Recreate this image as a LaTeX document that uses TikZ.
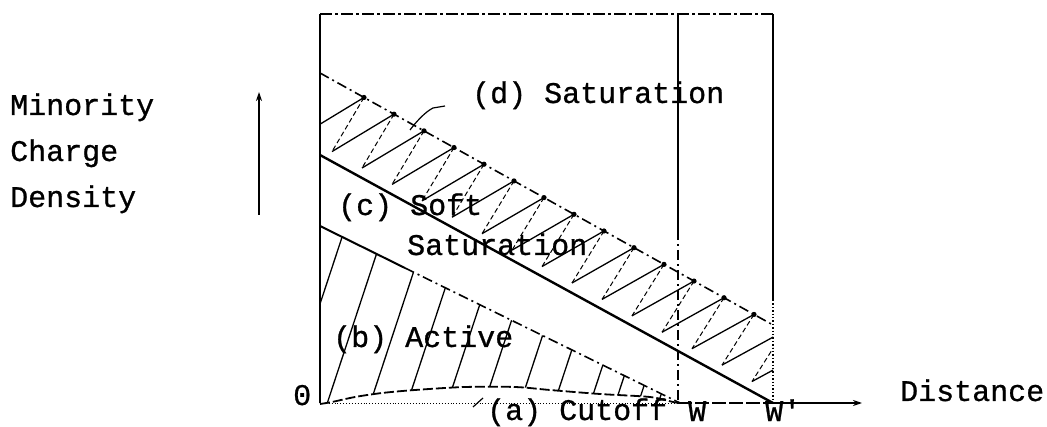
\documentclass[tikz,border=0pt]{standalone}
\usepackage{fontspec}
\setmonofont[FakeBold=0.8]{Liberation Mono}
\usetikzlibrary{arrows.meta}
\begin{document}
\begin{tikzpicture}[x=1pt,y=-1pt,
  lbl/.style={font=\fontsize{30}{36}\selectfont\ttfamily, inner sep=0pt, anchor=base west},
  heavy/.style={line width=2.4pt},
  frame/.style={line width=1.4pt},
  hatchline/.style={line width=1.3pt},
  hatchdash/.style={line width=1pt, dash pattern=on 5pt off 3pt},
  dashdot/.style={dash pattern=on 10pt off 4pt on 2pt off 4pt},
  leader/.style={line width=1.2pt}]
\fill[white] (0,0) rectangle (1047,427);
\useasboundingbox (0,0) rectangle (1047,427);
% key points
\coordinate (O) at (320,403);
\coordinate (TL) at (320,14);
\coordinate (TR) at (773,14);
\coordinate (Wp) at (773,403);
\coordinate (Rm) at (773,300);
\coordinate (Wt) at (678,14);
\coordinate (Wm) at (678,230);
\coordinate (Wb) at (678,403);
\coordinate (Sa) at (320,155);
\coordinate (Da) at (320,73);
\coordinate (Db) at (773,325);
\coordinate (Aa) at (320,226);
\coordinate (Am) at (405,268);
\coordinate (Ab) at (680,403);
\coordinate (Xend) at (862,403);
\coordinate (Ya) at (259,215);
\coordinate (Yb) at (259,92);
% frame
\draw[frame] (O) -- (TL);
\draw[frame, dash pattern=on 12pt off 3pt on 3pt off 3pt] (TL) -- (TR);
\draw[frame] (TR) -- (Rm);
\draw[frame, dotted] (Rm) -- (Wp);
\draw[frame] (Wt) -- (Wm);
\draw[frame, dashdot] (Wm) -- (Wb);
% axes
\draw[line width=0.9pt, dotted] (O) -- (Wb);
\draw[frame, dash pattern=on 14pt off 3pt] (Wb) -- (Wp);
\draw[frame, -{Stealth[length=9pt,width=6pt]}] (Wp) -- (Xend);
\draw[line width=1.8pt, -{Stealth[length=9pt,width=6pt]}] (Ya) -- (Yb);
% active region hatch
\begin{scope}
\clip (320,226) -- (680,403) -- plot[smooth] coordinates {(680,403) (673,402) (650,397) (600,394) (550,390) (515,387) (465,387) (415,390) (382,393) (355,397) (332,402) (320,404)} -- cycle;
\foreach \xb in {285,325,368,405,445,482,518,552,588,613,636,656}
  \draw[hatchline] (\xb,410) -- ({\xb+66},210);
\end{scope}
% saturation hatch
\begin{scope}
\clip (Da) -- (Db) -- (Wp) -- (Sa) -- cycle;
\foreach \k in {0,...,15}{
  \pgfmathsetmacro\xp{302+30*\k}
  \pgfmathsetmacro\yp{155+0.5475*(\xp-320)-10}
  \pgfmathsetmacro\xq{\xp+62}
  \pgfmathsetmacro\yq{73+0.5563*(\xq-320)}
  \pgfmathsetmacro\xn{\xp+30}
  \pgfmathsetmacro\yn{155+0.5475*(\xn-320)-10}
  \draw[hatchline] (\xp,\yp) -- (\xq,\yq);
  \draw[hatchdash] (\xq,\yq) -- (\xn,\yn);
}
\end{scope}
\foreach \k in {0,...,13}{
  \pgfmathsetmacro\xq{364+30*\k}
  \pgfmathsetmacro\yq{73+0.5563*(\xq-320)}
  \fill (\xq,\yq) circle (2.6pt);
}
% boundary lines
\draw[heavy] (Sa) -- (Wp);
\draw[line width=2pt] (Aa) -- (Am);
\draw[line width=1.6pt, dashdot] (Am) -- (Ab);
\draw[line width=1.6pt, dashdot] (Da) -- (Db);
\draw[line width=1.8pt, dash pattern=on 10pt off 3pt] plot[smooth] coordinates {(320,404) (332,402) (355,397) (382,393) (415,390) (465,387) (515,387) (550,390) (600,394) (650,397) (673,402) (680,403)};
% labels
\node[lbl] (minority) at (10,115) {Minority};
\node[lbl] (charge) at (10,161) {Charge};
\node[lbl] (density) at (10,207) {Density};
\node[lbl] (dsat) at (472,103) {(d) Saturation};
\node[lbl] (csoft) at (338,215) {(c) Soft};
\node[lbl] (csat) at (407,255) {Saturation};
\node[lbl] (bact) at (333,347) {(b) Active};
\node[lbl] (acut) at (487,420) {(a) Cutoff};
\node[lbl] (w) at (688,421) {W};
\node[lbl] (wp) at (765,421) {W'};
\node[lbl] (dist) at (900,401) {Distance};
\node[lbl] (zero) at (293,405) {0};
% leaders
\coordinate (dl) at (410,130);
\coordinate (al) at (483,398);
\coordinate (al2) at (473,407);
\draw[leader] (dsat.west |- 0,106) ++(-27,0) -- ++(-12,2) .. controls (425,112) and (416,122) .. (dl);
\draw[leader] (al2) -- (al);
\end{tikzpicture}
\end{document}
